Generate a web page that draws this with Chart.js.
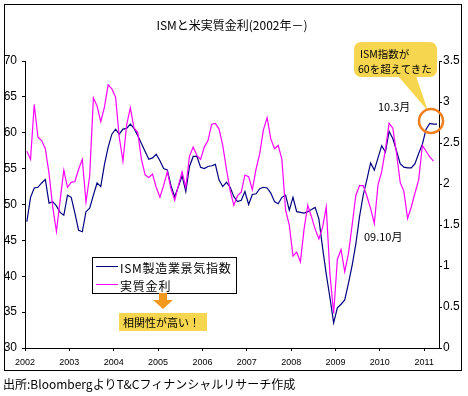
<!DOCTYPE html>
<html>
<head>
<meta charset="utf-8">
<script src="https://cdn.jsdelivr.net/npm/chart.js@4/dist/chart.umd.min.js"></script>
<style>
  html, body { margin: 0; padding: 0; background: #fff; }
  #wrap { position: relative; width: 468px; height: 396px; }
  #chart { position: absolute; left: 0; top: 0; }
  #deco { position: absolute; left: 0; top: 0; pointer-events: none; }
  #deco text { font-family: "Noto Sans CJK JP", sans-serif; fill: #000; }
</style>
</head>
<body>
<div id="wrap">
  <canvas id="chart" width="468" height="396"></canvas>
  <svg id="deco" width="468" height="396" xmlns="http://www.w3.org/2000/svg">
    <rect x="4.5" y="4.5" width="457" height="366" fill="none" stroke="#000" stroke-width="1"/>
    <text x="232" y="24" text-anchor="middle" dominant-baseline="central" font-size="12">ISMと米実質金利(2002年－)</text>

    <!-- legend -->
    <rect x="92.5" y="257.5" width="144" height="36" fill="#fff" stroke="#000" stroke-width="1"/>
    <line x1="96" y1="266.5" x2="118" y2="266.5" stroke="#000080" stroke-width="1"/>
    <line x1="96" y1="284.5" x2="118" y2="284.5" stroke="#ff00ff" stroke-width="1"/>
    <text x="120" y="267" dominant-baseline="central" font-size="12" letter-spacing="0.7">ISM製造業景気指数</text>
    <text x="120" y="285" dominant-baseline="central" font-size="12" letter-spacing="0.8">実質金利</text>

    <!-- arrow + note -->
    <rect x="159" y="293" width="8" height="8" fill="#f39a1e"/>
    <polygon points="153,300 173,300 163,309" fill="#f39a1e"/>
    <rect x="119" y="313" width="88" height="18" fill="#f7d64f"/>
    <text x="123" y="322" dominant-baseline="central" font-size="11">相関性が高い！</text>

    <!-- callout -->
    <polygon points="398,76 416,76 428,111" fill="#f7d64f"/>
    <rect x="354" y="42" width="83" height="35" rx="7" fill="#f7d64f"/>
    <text x="360" y="53" dominant-baseline="central" font-size="10.5">ISM指数が</text>
    <text x="358" y="68" dominant-baseline="central" font-size="10.5">60を超えてきた</text>
    <circle cx="431" cy="121" r="12" fill="none" stroke="#f07f1f" stroke-width="2.5"/>

    <text x="378" y="106" dominant-baseline="central" font-size="11">10.3月</text>
    <text x="364" y="236" dominant-baseline="central" font-size="11">09.10月</text>

    <text x="3" y="383" dominant-baseline="central" font-size="12">出所:BloombergよりT&amp;Cフィナンシャルリサーチ作成</text>
  </svg>
</div>
<script>
// year labels on the bottom axis (one every 12 months, from Jan 2002)
const yearTicks = ['2002', '2003', '2004', '2005', '2006', '2007', '2008', '2009', '2010', '2011'];

// ISM manufacturing index, monthly Jan 2002 - Apr 2011 (left axis)
const ismIndex = [
  47.6, 51.0, 52.3, 52.4, 53.0, 53.5, 50.2, 50.4, 49.8, 48.9,
  48.5, 51.3, 51.0, 48.8, 46.4, 46.2, 49.0, 49.5, 51.3, 53.0,
  52.5, 55.6, 58.0, 59.8, 60.5, 59.8, 60.5, 60.6, 61.2, 60.6,
  59.6, 58.5, 57.4, 56.3, 56.5, 57.0, 56.1, 55.0, 54.8, 52.6,
  51.1, 52.5, 54.0, 51.8, 55.3, 56.7, 56.7, 55.2, 55.0, 55.3,
  55.4, 55.6, 53.4, 52.5, 53.1, 52.4, 51.1, 50.4, 50.6, 51.8,
  50.0, 51.4, 51.5, 52.2, 52.4, 52.3, 51.6, 50.4, 50.1, 51.0,
  51.3, 49.2, 51.0, 49.0, 48.9, 48.8, 49.0, 49.3, 49.6, 48.0,
  44.0, 40.3, 37.0, 33.5, 35.6, 36.1, 36.7, 39.0, 41.5, 44.5,
  48.3, 51.3, 53.5, 55.8, 54.8, 56.5, 58.2, 57.3, 60.2, 59.2,
  57.5, 55.7, 55.2, 55.1, 55.1, 55.7, 57.1, 58.4, 60.5, 61.3,
  61.2, 61.2
];

// US real interest rate, monthly Jan 2002 - Mar 2011 (right axis)
const realRate = [
  2.40, 2.30, 2.97, 2.57, 2.53, 2.43, 2.13, 1.72, 1.42, 1.80,
  2.17, 1.96, 2.02, 2.03, 2.18, 2.30, 1.78, 2.10, 3.05, 2.95,
  2.76, 2.94, 3.21, 3.16, 3.06, 2.57, 2.28, 2.72, 2.93, 2.68,
  2.63, 2.30, 2.11, 2.08, 2.12, 1.96, 1.84, 1.98, 2.15, 1.94,
  1.80, 1.98, 2.15, 1.96, 2.34, 2.45, 2.35, 2.30, 2.45, 2.53,
  2.73, 2.74, 2.67, 2.47, 2.18, 1.92, 1.74, 1.86, 1.90, 2.11,
  2.09, 1.93, 2.18, 2.37, 2.66, 2.81, 2.55, 2.43, 2.47, 2.30,
  1.68, 1.50, 1.12, 1.17, 1.05, 1.45, 1.74, 1.60, 1.45, 1.33,
  1.47, 1.72, 0.90, 0.42, 1.08, 1.20, 0.93, 1.15, 1.50, 1.86,
  1.98, 1.98, 1.85, 1.70, 1.52, 1.99, 2.15, 2.42, 2.74, 2.68,
  2.38, 2.02, 1.91, 1.58, 1.72, 1.89, 2.05, 2.47, 2.40, 2.33,
  2.28
];

// months sit in the middle of their slot on the x axis
const toPoints = arr => arr.map((v, i) => ({ x: i + 0.5, y: v }));

const axisFont = { family: '"Liberation Sans", Arial, sans-serif', size: 12 };

new Chart(document.getElementById('chart'), {
  type: 'line',
  data: {
    datasets: [
      {
        label: 'ISM製造業景気指数',
        data: toPoints(ismIndex),
        yAxisID: 'y',
        borderColor: '#000080',
        borderWidth: 1.2,
        pointRadius: 0,
        tension: 0,
        order: 1
      },
      {
        label: '実質金利',
        data: toPoints(realRate),
        yAxisID: 'y2',
        borderColor: '#ff00ff',
        borderWidth: 1.2,
        pointRadius: 0,
        tension: 0,
        order: 0
      }
    ]
  },
  options: {
    responsive: false,
    animation: false,
    layout: { padding: { top: 61, left: 0, right: 0, bottom: 0 } },
    plugins: { legend: { display: false }, tooltip: { enabled: false } },
    scales: {
      x: {
        type: 'linear',
        min: 0,
        max: 112,
        afterFit: s => { s.height = 48; },
        ticks: {
          stepSize: 12,
          includeBounds: false,
          autoSkip: false,
          maxRotation: 0,
          padding: 6,
          color: '#000',
          font: { family: axisFont.family, size: 9 },
          callback: v => yearTicks[v / 12] || ''
        },
        grid: { drawOnChartArea: false, tickLength: 3, color: '#000' },
        border: { color: '#000' }
      },
      y: {
        position: 'left',
        min: 30,
        max: 70,
        afterFit: s => { s.width = 25; },
        ticks: { stepSize: 5, padding: 5, color: '#000', font: axisFont },
        grid: { drawOnChartArea: false, tickLength: 3, color: '#000' },
        border: { color: '#000' }
      },
      y2: {
        position: 'right',
        min: 0,
        max: 3.5,
        afterFit: s => { s.width = 29; },
        ticks: {
          stepSize: 0.5,
          padding: 1,
          color: '#000',
          font: axisFont,
          // Excel style: "3" not "3.0"
          callback: v => String(Math.round(v * 10) / 10)
        },
        grid: { drawOnChartArea: false, tickLength: 3, color: '#000' },
        border: { color: '#000' }
      }
    }
  }
});
</script>
</body>
</html>
